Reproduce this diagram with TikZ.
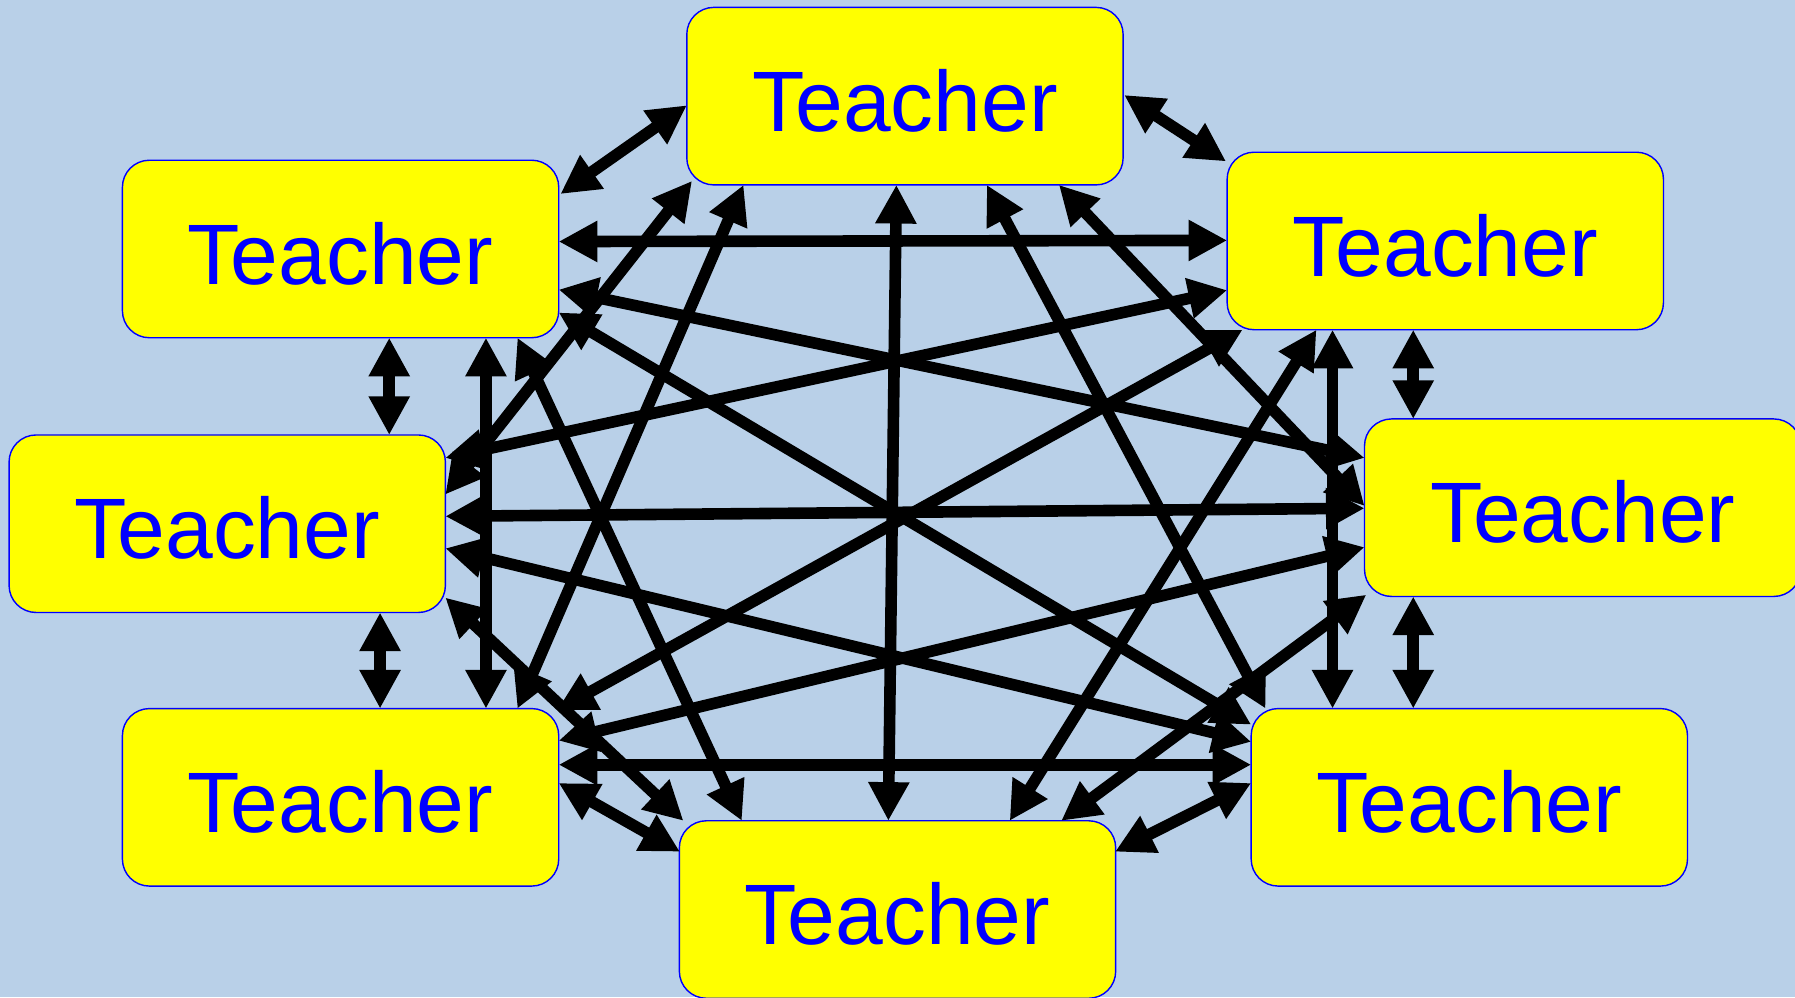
\documentclass[tikz,border=0pt]{standalone}
\usepackage{fontspec}
\setmainfont{Liberation Sans}
\usetikzlibrary{arrows.meta}
\definecolor{bgblue}{RGB}{185,208,232}
\definecolor{txtblue}{RGB}{0,0,255}
\definecolor{boxyellow}{RGB}{255,255,0}
\begin{document}
\begin{tikzpicture}[x=0.011448cm,y=-0.011448cm,
  teacher/.style={draw=blue, line width=0.4pt, fill=boxyellow, rounded corners=0.27cm,
    minimum width=4.3617cm, minimum height=1.7744cm, inner sep=0pt, outer sep=0pt,
    text=txtblue, font=\fontsize{24.4}{29}\selectfont, text height=20pt, text depth=0pt},
  link/.style={line width=3.3pt,
    {Triangle[length=11pt,width=11pt]}-{Triangle[length=11pt,width=11pt]}}]
\useasboundingbox (0,0) rectangle (1568,871);
\fill[bgblue] (0,0) rectangle (1568,871);
\node[teacher] (T)  at (790.5,84)   {Teacher};
\node[teacher] (TL) at (297.5,217.5) {Teacher};
\node[teacher] (TR) at (1262.5,210.5) {Teacher};
\node[teacher] (L)  at (198.5,457.5) {Teacher};
\node[teacher] (R)  at (1382.5,443.5) {Teacher};
\node[teacher] (BL) at (297.5,696.5) {Teacher};
\node[teacher] (BR) at (1283.5,696.5) {Teacher};
\node[teacher] (B)  at (784,794.5)  {Teacher};
% neighbours
\draw[link] ([shift={(-190.5,8)}]T.center) -- ([shift={(192,-48)}]TL.center);
\draw[link] ([shift={(191.5,-1)}]T.center) -- ([shift={(-191.5,-69.5)}]TR.center);
\draw[link] ([shift={(-28,77.5)}]TR.center) -- ([shift={(-148,-77.5)}]R.center);
\draw[link] ([shift={(-148,77.5)}]R.center) -- ([shift={(-49,-77.5)}]BR.center);
\draw[link] ([shift={(-190.5,-12.5)}]BR.center) -- ([shift={(190,-50.5)}]B.center);
\draw[link] ([shift={(-190,-50.5)}]B.center) -- ([shift={(190.5,-12.5)}]BL.center);
\draw[link] ([shift={(34.5,-77.5)}]BL.center) -- ([shift={(133.5,77.5)}]L.center);
\draw[link] ([shift={(141.5,-77.5)}]L.center) -- ([shift={(42.5,77.5)}]TL.center);
% skip one
\draw[link] ([shift={(134.5,77.5)}]T.center) -- ([shift={(-190.5,-1.5)}]R.center);
\draw[link] ([shift={(-186,74)}]T.center) -- ([shift={(190.5,-25.5)}]L.center);
\draw[link] ([shift={(-98.5,77.5)}]TR.center) -- ([shift={(-119.5,-77.5)}]BR.center);
\draw[link] ([shift={(127,77.5)}]TL.center) -- ([shift={(127,-77.5)}]BL.center);
\draw[link] ([shift={(190.5,-6.5)}]TL.center) -- ([shift={(-190.5,-0.5)}]TR.center);
\draw[link] ([shift={(190.5,-28.5)}]BL.center) -- ([shift={(-190.5,-28.5)}]BR.center);
\draw[link] ([shift={(-189,76)}]R.center) -- ([shift={(143,-77.5)}]B.center);
\draw[link] ([shift={(190.5,64.5)}]L.center) -- ([shift={(-187,-77.5)}]B.center);
% skip two
\draw[link] ([shift={(71.5,77.5)}]T.center) -- ([shift={(-178,-77.5)}]BR.center);
\draw[link] ([shift={(-141,77.5)}]T.center) -- ([shift={(154.5,-77.5)}]BL.center);
\draw[link] ([shift={(-112.5,77.5)}]TR.center) -- ([shift={(98,-77.5)}]B.center);
\draw[link] ([shift={(-190.5,43)}]TR.center) -- ([shift={(190.5,-57.5)}]L.center);
\draw[link] ([shift={(-190.5,-43.5)}]R.center) -- ([shift={(190.5,35.5)}]TL.center);
\draw[link] ([shift={(-190.5,34.5)}]R.center) -- ([shift={(190.5,-49.5)}]BL.center);
\draw[link] ([shift={(-190.5,-48.5)}]BR.center) -- ([shift={(190.5,21.5)}]L.center);
\draw[link] ([shift={(-136,-77.5)}]B.center) -- ([shift={(154.5,77.5)}]TL.center);
% opposite
\draw[link] ([shift={(-7.5,77.5)}]T.center) -- ([shift={(-8,-77.5)}]B.center);
\draw[link] ([shift={(190.5,55.5)}]TL.center) -- ([shift={(-190.5,-63.5)}]BR.center);
\draw[link] ([shift={(-177,77.5)}]TR.center) -- ([shift={(189,-76)}]BL.center);
\draw[link] ([shift={(190.5,-6.5)}]L.center) -- ([shift={(-190.5,0.5)}]R.center);
\end{tikzpicture}
\end{document}
